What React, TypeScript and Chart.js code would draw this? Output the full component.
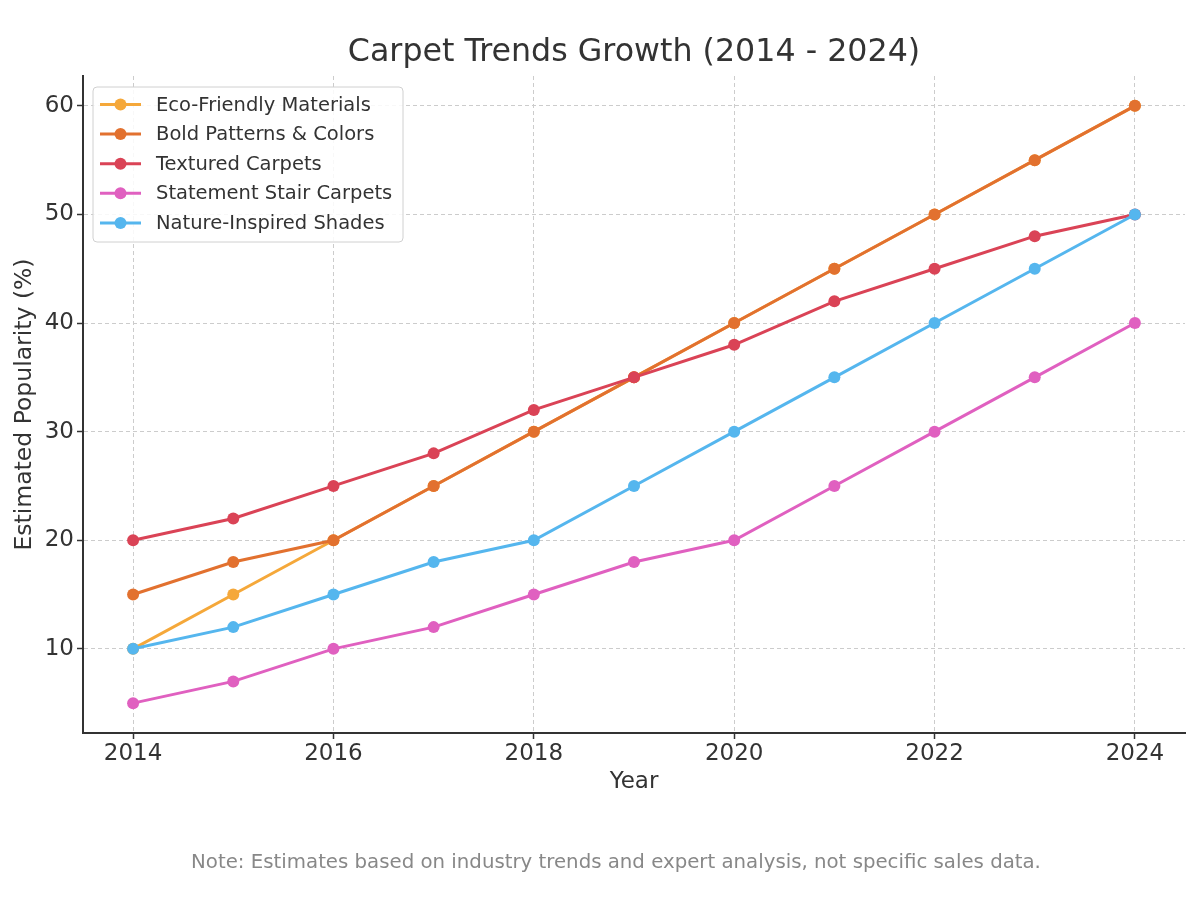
import React, { useEffect, useRef } from "react";
import { Chart, registerables } from "chart.js";

Chart.register(...registerables);

const years = [2014, 2015, 2016, 2017, 2018, 2019, 2020, 2021, 2022, 2023, 2024];
const ecoFriendly = [10, 15, 20, 25, 30, 35, 40, 45, 50, 55, 60];
const boldPatterns = [15, 18, 20, 25, 30, 35, 40, 45, 50, 55, 60];
const texturedCarpets = [20, 22, 25, 28, 32, 35, 38, 42, 45, 48, 50];
const statementStair = [5, 7, 10, 12, 15, 18, 20, 25, 30, 35, 40];
const natureShades = [10, 12, 15, 18, 20, 25, 30, 35, 40, 45, 50];

const seriesNames = [
  "Eco-Friendly Materials",
  "Bold Patterns & Colors",
  "Textured Carpets",
  "Statement Stair Carpets",
  "Nature-Inspired Shades",
];
const seriesColors = ["#F5A83A", "#E2712F", "#DA4356", "#E060C0", "#55B6EE"];
const xTickYears = [2014, 2016, 2018, 2020, 2022, 2024];
const yTickValues = [10, 20, 30, 40, 50, 60];

const titleText = "Carpet Trends Growth (2014 - 2024)";
const noteText = "Note: Estimates based on industry trends and expert analysis, not specific sales data.";
const FONT = "'DejaVu Sans', sans-serif";

const titleAndNote = {
  id: "titleAndNote",
  afterDraw(chart: any) {
    const ctx = chart.ctx;
    const area = chart.chartArea;
    ctx.save();
    ctx.textAlign = "center";
    ctx.textBaseline = "middle";
    ctx.fillStyle = "#333333";
    ctx.font = "31.7px " + FONT;
    ctx.fillText(titleText, (area.left + area.right) / 2, area.top - 23);
    ctx.fillStyle = "#888888";
    ctx.font = "19.75px " + FONT;
    ctx.fillText(noteText, 616, area.bottom + 130);
    ctx.restore();
  },
};

const legendInside = {
  id: "legendInside",
  afterDatasetsDraw(chart: any) {
    const ctx = chart.ctx;
    const area = chart.chartArea;
    const x0 = area.left + 10;
    const y0 = area.top + 11;
    const w = 310;
    const h = 155;
    ctx.save();
    ctx.beginPath();
    const r = 4;
    ctx.moveTo(x0 + r, y0);
    ctx.lineTo(x0 + w - r, y0);
    ctx.quadraticCurveTo(x0 + w, y0, x0 + w, y0 + r);
    ctx.lineTo(x0 + w, y0 + h - r);
    ctx.quadraticCurveTo(x0 + w, y0 + h, x0 + w - r, y0 + h);
    ctx.lineTo(x0 + r, y0 + h);
    ctx.quadraticCurveTo(x0, y0 + h, x0, y0 + h - r);
    ctx.lineTo(x0, y0 + r);
    ctx.quadraticCurveTo(x0, y0, x0 + r, y0);
    ctx.closePath();
    ctx.fillStyle = "rgba(255,255,255,0.85)";
    ctx.fill();
    ctx.strokeStyle = "#d0d0d0";
    ctx.lineWidth = 1;
    ctx.stroke();
    ctx.font = "19.5px " + FONT;
    ctx.textBaseline = "middle";
    ctx.textAlign = "left";
    chart.data.datasets.forEach((ds: any, i: number) => {
      const y = y0 + 17.5 + i * 29.6;
      ctx.strokeStyle = ds.borderColor;
      ctx.lineWidth = 3;
      ctx.beginPath();
      ctx.moveTo(x0 + 7, y);
      ctx.lineTo(x0 + 48, y);
      ctx.stroke();
      ctx.fillStyle = ds.borderColor;
      ctx.beginPath();
      ctx.arc(x0 + 27.5, y, 6, 0, Math.PI * 2);
      ctx.fill();
      ctx.fillStyle = "#333333";
      ctx.fillText(ds.label, x0 + 63, y + 1);
    });
    ctx.restore();
  },
};

export default function App() {
  const canvasRef = useRef<HTMLCanvasElement | null>(null);

  useEffect(() => {
    document.body.style.margin = "0";
    const seriesValues = [ecoFriendly, boldPatterns, texturedCarpets, statementStair, natureShades];
    const datasets = seriesValues.map((vals, i) => ({
      label: seriesNames[i],
      data: years.map((yr, j) => ({ x: yr, y: vals[j] })),
      borderColor: seriesColors[i],
      backgroundColor: seriesColors[i],
      pointBackgroundColor: seriesColors[i],
      pointBorderColor: seriesColors[i],
      pointRadius: 6,
      pointBorderWidth: 0,
      borderWidth: 3,
      tension: 0,
      order: seriesValues.length - i,
    }));

    const chart = new Chart(canvasRef.current as HTMLCanvasElement, {
      type: "line",
      data: { datasets },
      options: {
        animation: false,
        responsive: false,
        maintainAspectRatio: false,
        layout: { padding: { left: 0, right: 15, top: 76, bottom: 116 } },
        plugins: {
          legend: { display: false },
          tooltip: { enabled: false },
          title: { display: false },
          subtitle: { display: false },
        },
        scales: {
          x: {
            type: "linear",
            min: 2013.5,
            max: 2024.5,
            afterFit: (scale: any) => {
              scale.height = 70;
            },
            afterBuildTicks: (scale: any) => {
              scale.ticks = xTickYears.map((v) => ({ value: v }));
            },
            ticks: {
              color: "#333333",
              font: { family: FONT, size: 23 },
              padding: 1,
              callback: (v: any) => String(v),
            },
            grid: {
              color: "#cccccc",
              lineWidth: 1,
              tickColor: "#333333",
              tickLength: 6,
              tickWidth: 1.5,
              tickBorderDash: [],
            },
            border: { display: true, color: "#333333", width: 2, dash: [4, 3] },
            title: {
              display: true,
              text: "Year",
              color: "#333333",
              font: { family: FONT, size: 23 },
              padding: { top: 0, bottom: 7 },
            },
          },
          y: {
            type: "linear",
            min: 2.25,
            max: 62.75,
            afterFit: (scale: any) => {
              scale.width = 83;
            },
            afterBuildTicks: (scale: any) => {
              scale.ticks = yTickValues.map((v) => ({ value: v }));
            },
            ticks: {
              color: "#333333",
              font: { family: FONT, size: 23 },
              padding: 3,
            },
            grid: {
              color: "#cccccc",
              lineWidth: 1,
              tickColor: "#333333",
              tickLength: 6,
              tickWidth: 1.5,
              tickBorderDash: [],
            },
            border: { display: true, color: "#333333", width: 2, dash: [4, 3] },
            title: {
              display: true,
              text: "Estimated Popularity (%)",
              color: "#333333",
              font: { family: FONT, size: 23.5 },
              padding: { top: 11, bottom: 0 },
            },
          },
        },
      },
      plugins: [legendInside, titleAndNote],
    });
    return () => chart.destroy();
  }, []);

  return (
    <div style={{ position: "absolute", left: 0, top: 0, width: 1200, height: 919, background: "#ffffff" }}>
      <canvas ref={canvasRef} width={1200} height={919} style={{ display: "block", width: 1200, height: 919 }} />
    </div>
  );
}
